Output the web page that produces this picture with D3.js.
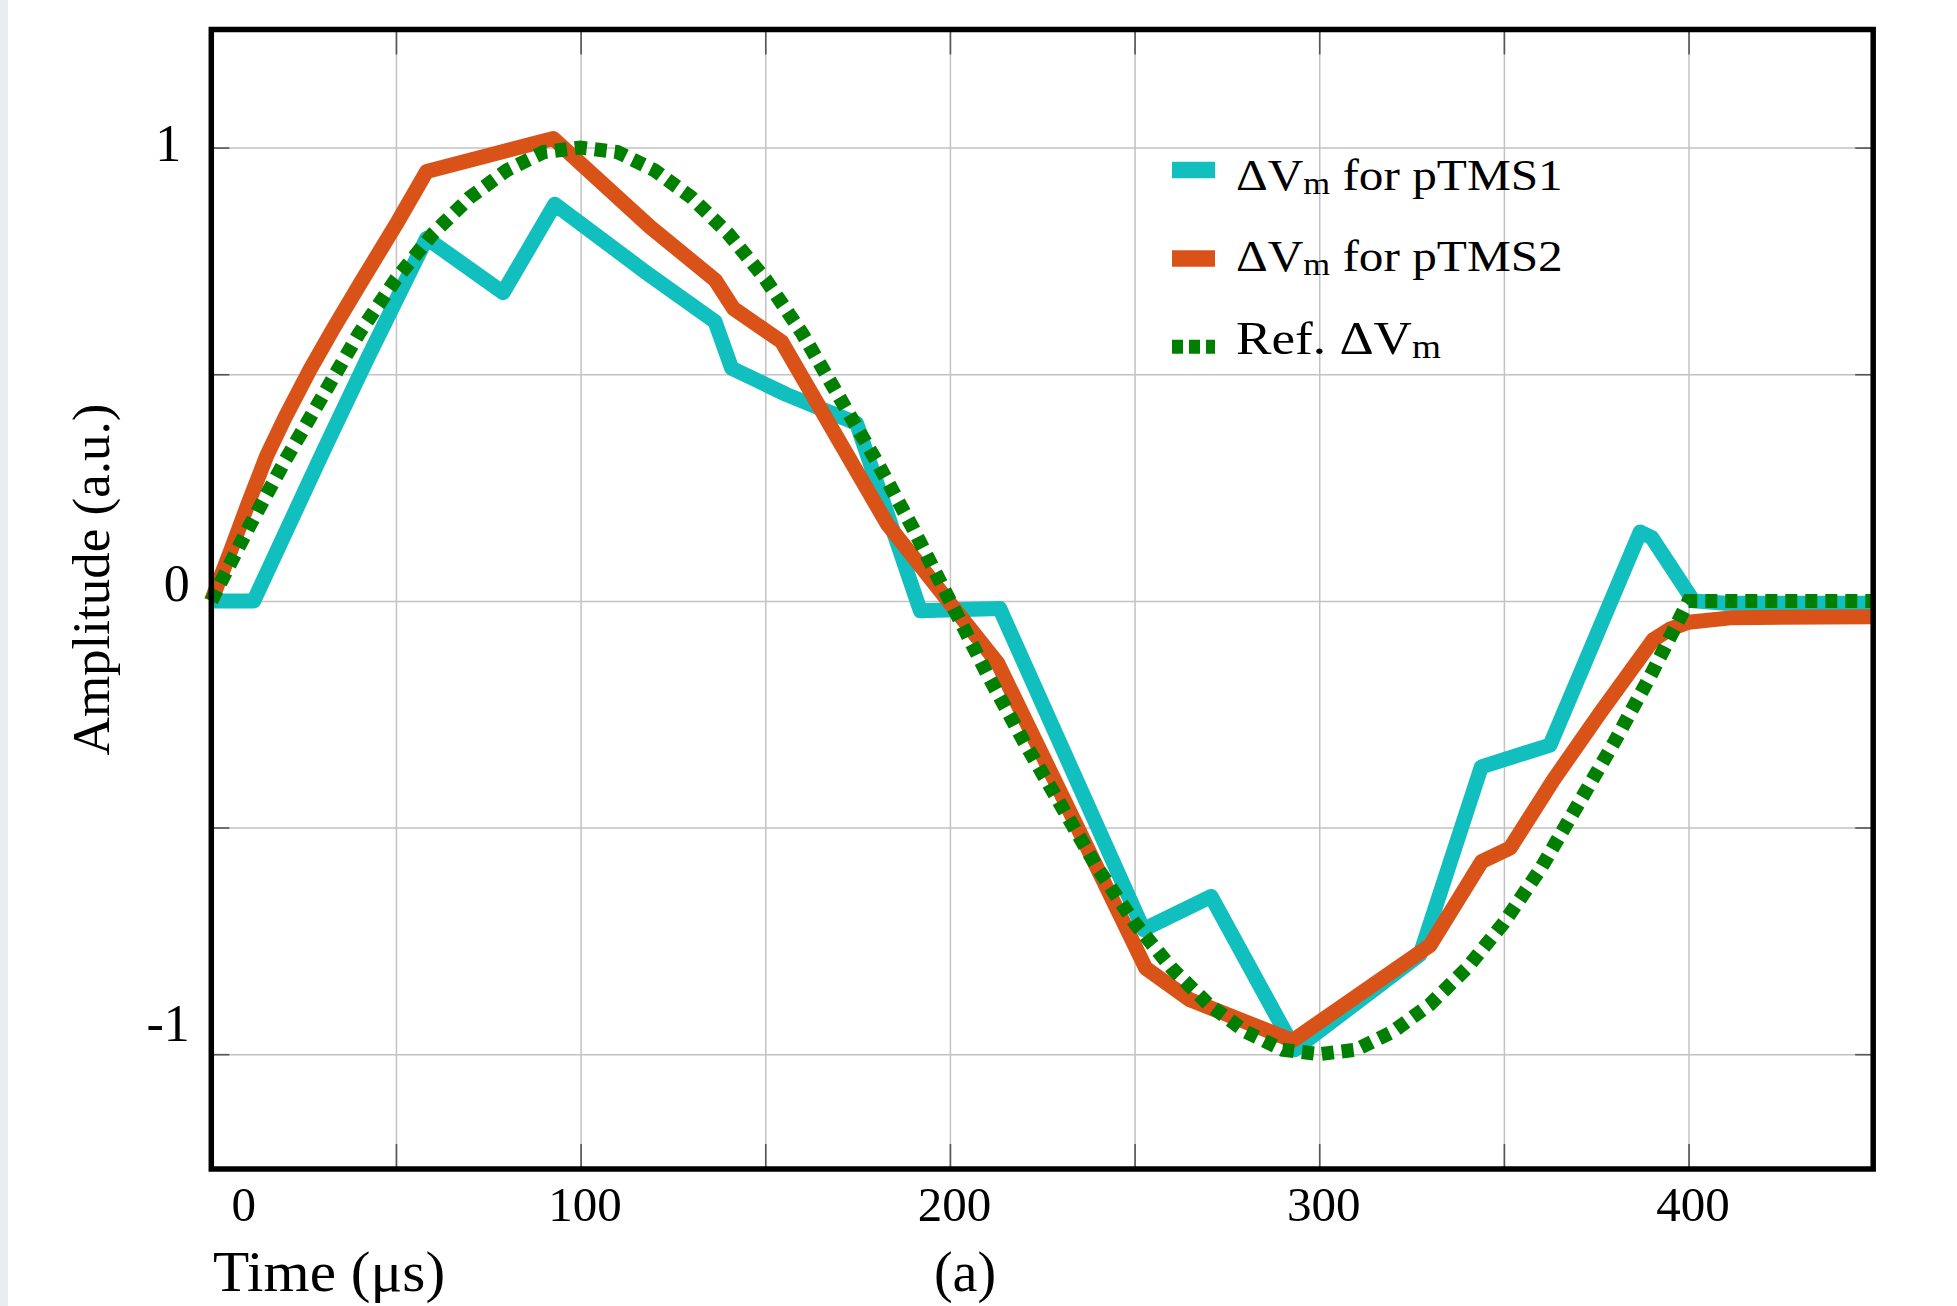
<!DOCTYPE html>
<html><head><meta charset="utf-8">
<script src="https://cdn.jsdelivr.net/npm/d3@7"></script>
<style>
html,body{margin:0;padding:0;background:#fff;}
svg{display:block;}
text{font-family:"Liberation Serif","Times New Roman",serif;fill:#000;}
</style></head><body>
<svg id="chart" width="1957" height="1306"></svg>
<script>
// ---------- data ----------
const timeTicks = [0, 100, 200, 300, 400];
const ampTicks = [1, 0, -1];
const gridTimes = [50, 100, 150, 200, 250, 300, 350, 400];
const gridAmps = [-1, -0.5, 0, 0.5, 1];

// ΔVm for pTMS1 (cyan) : [time µs, amplitude]
const pTMS1 = [[0,0],[11.5,0],[30.3,0.33],[42,0.53],[58.3,0.80],[79,0.68],[93,0.875],[118.8,0.718],
  [136.4,0.616],[140.9,0.513],[155.8,0.455],[174.7,0.392],[192,-0.022],[213.5,-0.017],[252.4,-0.725],
  [270.7,-0.652],[293.4,-0.99],[327.3,-0.78],[343.9,-0.366],[362.5,-0.318],[386.9,0.152],[390,0.14],
  [401.3,0.0],[410,-0.005],[450,-0.005]];

// ΔVm for pTMS2 (orange)
const pTMS2 = [[0,0],[5,0.105],[10,0.215],[15,0.32],[20,0.405],[26.7,0.51],[33,0.60],[40.3,0.70],[50,0.83],
  [58.3,0.947],[92.6,1.02],[118.8,0.825],[136.4,0.708],[141.4,0.645],[154.4,0.572],[183,0.17],[200,-0.005],
  [213,-0.138],[253,-0.81],[265,-0.88],[292.8,-0.97],[330,-0.76],[344,-0.575],[351.7,-0.545],[363.4,-0.395],
  [376,-0.248],[390.4,-0.086],[395,-0.062],[400,-0.047],[412,-0.037],[450,-0.035]];

// Ref. ΔVm (green dotted)
const refTime = [0,10,20,30,40,50,60,70,80,90,100,110,120,130,140,150,160,170,180,190,200,
  210,220,230,240,250,260,270,280,290,300,310,320,330,340,350,360,370,380,390,400,450];
const refAmp = [0,0.16,0.31,0.45,0.59,0.71,0.81,0.89,0.95,0.99,1.00,0.99,0.95,0.89,0.81,0.71,0.59,0.45,0.31,0.16,0.00,
  -0.16,-0.31,-0.45,-0.59,-0.71,-0.81,-0.89,-0.95,-0.99,-1.00,-0.99,-0.95,-0.89,-0.81,-0.71,-0.59,-0.45,-0.31,-0.16,0.00,0.00];

const legendLabels = [["ΔV","m"," for pTMS1"],["ΔV","m"," for pTMS2"],["Ref. ΔV","m",""]];
const seriesColors = ["#12BFBF","#D95319","#007F00"];

// ---------- layout ----------
const W = 1957, H = 1306;
const svg = d3.select("#chart");
svg.append("rect").attr("width", W).attr("height", H).attr("fill", "#fff");
svg.append("rect").attr("x", 0).attr("y", 0).attr("width", 8).attr("height", H).attr("fill", "#E8EDF2");

const x = d3.scaleLinear().domain([0, 450]).range([211.3, 1873.2]);
const y = d3.scaleLinear().domain([-1.2533, 1.2605]).range([1169, 29.5]);
const [px0, px1] = x.range();
const [py1, py0] = y.range();

// grid
svg.append("g").attr("transform", `translate(0,${py1})`)
  .call(d3.axisBottom(x).tickValues(gridTimes).tickSize(-(py1 - py0)).tickFormat(""))
  .call(g => { g.select(".domain").remove(); g.selectAll("line").attr("stroke", "#c2c2c2").attr("stroke-width", 1.5); });
svg.append("g").attr("transform", `translate(${px0},0)`)
  .call(d3.axisLeft(y).tickValues(gridAmps).tickSize(-(px1 - px0)).tickFormat(""))
  .call(g => { g.select(".domain").remove(); g.selectAll("line").attr("stroke", "#c2c2c2").attr("stroke-width", 1.5); });

// inner tick marks on all four sides
function styleTicks(g) { g.select(".domain").remove(); g.selectAll("line").attr("stroke", "#555").attr("stroke-width", 1.6); }
svg.append("g").attr("transform", `translate(0,${py1})`).call(d3.axisBottom(x).tickValues(gridTimes).tickSize(-25).tickFormat("")).call(styleTicks);
svg.append("g").attr("transform", `translate(0,${py0})`).call(d3.axisTop(x).tickValues(gridTimes).tickSize(-25).tickFormat("")).call(styleTicks);
svg.append("g").attr("transform", `translate(${px0},0)`).call(d3.axisLeft(y).tickValues(gridAmps).tickSize(-18).tickFormat("")).call(styleTicks);
svg.append("g").attr("transform", `translate(${px1},0)`).call(d3.axisRight(y).tickValues(gridAmps).tickSize(-18).tickFormat("")).call(styleTicks);

// series
const line = d3.line().x(d => x(d[0])).y(d => y(d[1]));
const refData = refTime.map((t, i) => [t, refAmp[i]]);
svg.append("path").datum(pTMS1).attr("d", line).attr("fill", "none").attr("stroke", seriesColors[0])
  .attr("stroke-width", 15).attr("stroke-linejoin", "round");
svg.append("path").datum(pTMS2).attr("d", line).attr("fill", "none").attr("stroke", seriesColors[1])
  .attr("stroke-width", 15).attr("stroke-linejoin", "round");
svg.append("path").datum(refData).attr("d", line).attr("fill", "none").attr("stroke", seriesColors[2])
  .attr("stroke-width", 14).attr("stroke-dasharray", "12,8");

// border
svg.append("rect").attr("x", px0).attr("y", py0).attr("width", px1 - px0).attr("height", py1 - py0)
  .attr("fill", "none").attr("stroke", "#000").attr("stroke-width", 5.5);

// x tick labels
svg.append("g").attr("transform", `translate(0,${py1})`)
  .call(d3.axisBottom(x).tickValues(timeTicks).tickSize(0).tickFormat(d => String(d)))
  .call(g => {
    g.select(".domain").remove();
    g.selectAll("text").attr("font-size", 49).attr("font-family", "Liberation Serif")
      .attr("dy", 0).attr("y", 52).attr("x", d => d === 0 ? 32 : 4);
  });

// y tick labels
svg.append("g").attr("transform", `translate(${px0},0)`)
  .call(d3.axisLeft(y).tickValues(ampTicks).tickSize(0).tickFormat(d => String(d)))
  .call(g => {
    g.select(".domain").remove();
    g.selectAll("text").attr("font-size", 52).attr("font-family", "Liberation Serif")
      .attr("dy", 0).attr("y", d => 13.3 * d).attr("x", d => d === 1 ? -30 : -21.5);
  });

// axis titles
svg.append("text").attr("transform", "translate(109,579.5) rotate(-90)").attr("text-anchor", "middle")
  .attr("font-size", 53).text("Amplitude (a.u.)");
svg.append("text").attr("transform", "translate(213,1291) scale(1.04,1)").attr("font-size", 57).text("Time (μs)");
svg.append("text").attr("x", 965).attr("y", 1291).attr("text-anchor", "middle").attr("font-size", 56).text("(a)");

// legend
const legRowY = [170, 258.5, 346.7];
const legTextY = [190, 271, 354];
const legFont = [44, 44, 47.5];
const leg = svg.append("g");
legendLabels.forEach((lab, i) => {
  const l = leg.append("line").attr("x1", 1172).attr("x2", 1215).attr("y1", legRowY[i]).attr("y2", legRowY[i])
    .attr("stroke", seriesColors[i]);
  if (i === 2) l.attr("stroke-width", 14).attr("stroke-dasharray", "11,6");
  else l.attr("stroke-width", 16.6);
  const t = leg.append("text").attr("transform", `translate(1236,${legTextY[i]}) scale(1.12,1)`).attr("font-size", legFont[i]);
  t.append("tspan").text(lab[0]);
  t.append("tspan").attr("font-size", legFont[i] * 0.7).attr("dy", 4).text(lab[1]);
  if (lab[2]) t.append("tspan").attr("dy", -4).text(lab[2]);
});
</script>
</body></html>
